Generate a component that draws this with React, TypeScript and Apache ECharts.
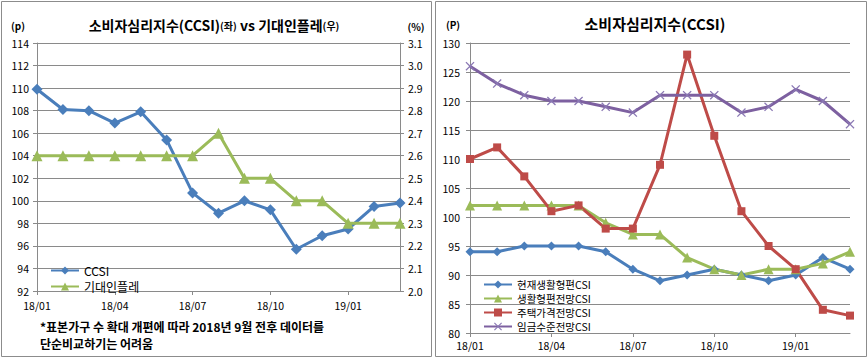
import React, { useEffect, useRef } from "react";
import * as echarts from "echarts";

const months = ["18/01","18/02","18/03","18/04","18/05","18/06","18/07","18/08","18/09","18/10","18/11","18/12","19/01","19/02","19/03"];

// Left panel
const ccsi = [109.9,108.1,108.0,106.9,107.9,105.4,100.7,98.9,100.0,99.2,95.7,96.9,97.5,99.5,99.8];
const inflationExp = [2.6,2.6,2.6,2.6,2.6,2.6,2.6,2.7,2.5,2.5,2.4,2.4,2.3,2.3,2.3];

// Right panel
const currentLiving = [94,94,95,95,95,94,91,89,90,91,90,89,90,93,91];
const livingOutlook = [102,102,102,102,102,99,97,97,93,91,90,91,91,92,94];
const housePrice = [110,112,107,101,102,98,98,109,128,114,101,95,91,84,83];
const wageOutlook = [126,123,121,120,120,119,118,121,121,121,118,119,122,120,116];

const BLUE = "#4a7ebb";
const GREEN = "#9bbb59";
const RED = "#be4b48";
const PURPLE = "#7d60a0";
const GRID = "#8a8a8a";
const FONT = "'Noto Sans CJK KR', 'Noto Sans', sans-serif";
const XMARK = "path://M0,1 L1,0 L5,4 L9,0 L10,1 L6,5 L10,9 L9,10 L5,6 L1,10 L0,9 L4,5 Z";

export default function App() {
  const ref = useRef<HTMLDivElement>(null);
  useEffect(() => {
    document.body.style.margin = "0";
    const chart = echarts.init(ref.current!, null, { renderer: "svg" });
    const axisText = { color: "#000", fontFamily: FONT, fontSize: 10.5 };
    const catAxis = (gridIndex: number, margin: number) => ({
      type: "category",
      gridIndex,
      data: months,
      boundaryGap: false,
      axisLine: { show: true, lineStyle: { color: GRID, width: 1 } },
      axisTick: { show: true, interval: 2, length: 4, lineStyle: { color: GRID } },
      axisLabel: { ...axisText, interval: 2, margin },
      splitLine: { show: false },
    });
    chart.setOption({
      animation: false,
      grid: [
        { left: 37, right: 468, top: 43, bottom: 67 },
        { left: 470, right: 18, top: 43, bottom: 25 },
      ],
      xAxis: [catAxis(0, 9), catAxis(1, 7)],
      yAxis: [
        {
          type: "value", gridIndex: 0, min: 92, max: 114, interval: 2,
          axisLine: { show: true, lineStyle: { color: GRID } },
          axisTick: { show: true, length: 4, lineStyle: { color: GRID } },
          axisLabel: { ...axisText, margin: 8 },
          splitLine: { show: true, lineStyle: { color: GRID, width: 1 } },
        },
        {
          type: "value", gridIndex: 0, position: "right", min: 2.0, max: 3.1, interval: 0.1,
          axisLine: { show: true, lineStyle: { color: GRID } },
          axisTick: { show: true, length: 4, lineStyle: { color: GRID } },
          axisLabel: { ...axisText, margin: 8, formatter: (v: number) => v.toFixed(1) },
          splitLine: { show: false },
        },
        {
          type: "value", gridIndex: 1, min: 80, max: 130, interval: 5,
          axisLine: { show: true, lineStyle: { color: GRID } },
          axisTick: { show: true, length: 4, lineStyle: { color: GRID } },
          axisLabel: { ...axisText, margin: 10 },
          splitLine: { show: true, lineStyle: { color: GRID, width: 1 } },
        },
      ],
      legend: [
        {
          data: ["CCSI", "기대인플레"], orient: "vertical", left: 45, top: 259,
          itemWidth: 28, itemHeight: 10, itemGap: 3,
          textStyle: { color: "#000", fontFamily: FONT, fontSize: 12, lineHeight: 13 },
        },
        {
          data: ["현재생활형편CSI", "생활형편전망CSI", "주택가격전망CSI", "임금수준전망CSI"],
          orient: "vertical", left: 478, top: 274,
          itemWidth: 28, itemHeight: 10, itemGap: 3,
          textStyle: { color: "#000", fontFamily: FONT, fontSize: 10.5, lineHeight: 11 },
        },
      ],
      series: [
        { name: "CCSI", type: "line", xAxisIndex: 0, yAxisIndex: 0, data: ccsi,
          symbol: "diamond", symbolSize: 11, lineStyle: { color: BLUE, width: 3 }, itemStyle: { color: BLUE } },
        { name: "기대인플레", type: "line", xAxisIndex: 0, yAxisIndex: 1, data: inflationExp,
          symbol: "triangle", symbolSize: 11, lineStyle: { color: GREEN, width: 3 }, itemStyle: { color: GREEN } },
        { name: "현재생활형편CSI", type: "line", xAxisIndex: 1, yAxisIndex: 2, data: currentLiving,
          symbol: "diamond", symbolSize: 9, lineStyle: { color: BLUE, width: 3 }, itemStyle: { color: BLUE } },
        { name: "생활형편전망CSI", type: "line", xAxisIndex: 1, yAxisIndex: 2, data: livingOutlook,
          symbol: "triangle", symbolSize: 10, lineStyle: { color: GREEN, width: 3 }, itemStyle: { color: GREEN } },
        { name: "주택가격전망CSI", type: "line", xAxisIndex: 1, yAxisIndex: 2, data: housePrice,
          symbol: "rect", symbolSize: 8, lineStyle: { color: RED, width: 3 }, itemStyle: { color: RED } },
        { name: "임금수준전망CSI", type: "line", xAxisIndex: 1, yAxisIndex: 2, data: wageOutlook,
          symbol: XMARK, symbolSize: 9, lineStyle: { color: PURPLE, width: 3 }, itemStyle: { color: "#8a78b4" } },
      ],
      graphic: [
        { type: "rect", shape: { x: 1.5, y: 1.5, width: 430, height: 355 }, style: { fill: "none", stroke: "#8c8c8c", lineWidth: 1 }, z: -1 },
        { type: "rect", shape: { x: 435.5, y: 1.5, width: 431, height: 355 }, style: { fill: "none", stroke: "#8c8c8c", lineWidth: 1 }, z: -1 },
        {
          type: "text", x: 214, y: 25,
          style: {
            text: "{b|소비자심리지수(CCSI)}{s|(좌)}{b| vs 기대인플레}{s|(우)}",
            align: "center", verticalAlign: "middle", fill: "#000",
            rich: {
              b: { fontFamily: FONT, fontSize: 14, fontWeight: "bold", fill: "#000" },
              s: { fontFamily: FONT, fontSize: 10, fontWeight: "bold", fill: "#000" },
            },
          },
        },
        { type: "text", x: 655, y: 23, style: { text: "소비자심리지수(CCSI)", align: "center", verticalAlign: "middle", fill: "#000", fontFamily: FONT, fontSize: 15, fontWeight: "bold" } },
        { type: "text", x: 18, y: 25, style: { text: "(p)", align: "center", verticalAlign: "middle", fill: "#000", fontFamily: FONT, fontSize: 10, fontWeight: "bold" } },
        { type: "text", x: 416, y: 26, style: { text: "(%)", align: "center", verticalAlign: "middle", fill: "#000", fontFamily: FONT, fontSize: 10, fontWeight: "bold" } },
        { type: "text", x: 453, y: 24, style: { text: "(P)", align: "center", verticalAlign: "middle", fill: "#000", fontFamily: FONT, fontSize: 10, fontWeight: "bold" } },
        { type: "text", x: 40, y: 326, style: { text: "*표본가구 수 확대 개편에 따라 2018년 9월 전후 데이터를", align: "left", verticalAlign: "middle", fill: "#000", fontFamily: FONT, fontSize: 12, fontWeight: "bold" } },
        { type: "text", x: 40, y: 343, style: { text: "단순비교하기는 어려움", align: "left", verticalAlign: "middle", fill: "#000", fontFamily: FONT, fontSize: 12, fontWeight: "bold" } },
      ],
    });
    return () => chart.dispose();
  }, []);
  return <div ref={ref} style={{ width: 868, height: 358 }} />;
}
